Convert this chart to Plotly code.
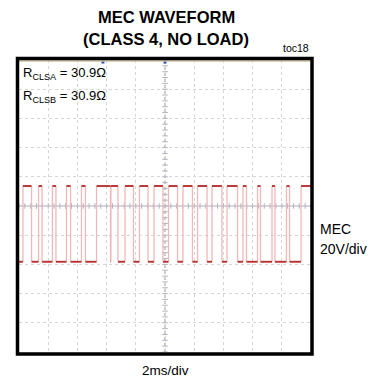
import numpy as np
import plotly.graph_objects as go

# Time base: 10 divisions x 2 ms; vertical: 10 divisions x 20 V
TIME_RANGE_MS = [0, 20]
VOLT_RANGE_V = [-100, 100]

# MEC trace levels (V) and transition times (ms); the trace starts at the low level
mec_low_v = -38.2
mec_high_v = 13.7
edge_times_ms = [0.27, 0.86, 1.34, 1.58, 2.29, 2.53, 3.25, 3.53, 4.28, 4.55,
                 5.31, 6.27, 6.29, 6.78, 7.26, 7.84, 8.25, 8.84, 9.25, 9.86,
                 10.24, 10.86, 11.23, 11.88, 12.23, 12.88, 13.22, 13.90, 14.25,
                 14.97, 15.34, 15.58, 16.34, 16.54, 17.33, 17.53, 18.32, 18.53,
                 19.32]

title_lines = ["MEC WAVEFORM", "(CLASS 4, NO LOAD)"]
rcls_labels = ["R<sub>CLSA</sub> = 30.9Ω", "R<sub>CLSB</sub> = 30.9Ω"]
channel_labels = ["MEC", "20V/div"]
time_label = "2ms/div"
fig_tag = "toc18"

FONT = "Liberation Sans, Arial, sans-serif"
W, H = 373, 378
L, R, T, B = 19, 62, 60, 26
PW, PH = W - L - R, H - T - B


def px_x(x):
    return (x - L) / PW


def px_y(y):
    return (H - B - y) / PH


def txt_font(size):
    return dict(family=FONT, size=size, color="black")


# Horizontal (settled) segments and vertical (fast) transitions of the step trace
bounds = [TIME_RANGE_MS[0]] + edge_times_ms + [TIME_RANGE_MS[1]]
flat_x, flat_y, edge_x, edge_y = [], [], [], []
for i in range(len(bounds) - 1):
    lvl = mec_low_v if i % 2 == 0 else mec_high_v
    flat_x += [bounds[i], bounds[i + 1], None]
    flat_y += [lvl, lvl, None]
for t in edge_times_ms:
    edge_x += [t, t, None]
    edge_y += [mec_low_v, mec_high_v, None]

fig = go.Figure()

# minor tick marks along the centre graticule lines
minor_t = np.arange(TIME_RANGE_MS[0], TIME_RANGE_MS[1] + 1e-9, 0.4)
minor_v = np.arange(VOLT_RANGE_V[0], VOLT_RANGE_V[1] + 1e-9, 4)
fig.add_trace(go.Scatter(x=minor_t, y=[0] * len(minor_t), mode="markers",
                         marker=dict(symbol="line-ns", size=4,
                                     line=dict(color="#b4b4c0", width=1)),
                         hoverinfo="skip", showlegend=False))
fig.add_trace(go.Scatter(x=[10] * len(minor_v), y=minor_v, mode="markers",
                         marker=dict(symbol="line-ew", size=4,
                                     line=dict(color="#b4b4c0", width=1)),
                         hoverinfo="skip", showlegend=False))

fig.add_trace(go.Scatter(x=edge_x, y=edge_y, mode="lines",
                         line=dict(color="#f0b8b8", width=1.3),
                         hoverinfo="skip", showlegend=False))
fig.add_trace(go.Scatter(x=flat_x, y=flat_y, mode="lines",
                         line=dict(color="#b8312f", width=1.9),
                         hoverinfo="skip", showlegend=False))

axis_common = dict(showticklabels=False, ticks="", zeroline=False,
                   showline=False, showgrid=True, gridcolor="#d6d6d6",
                   griddash="dot", gridwidth=1, fixedrange=True)
fig.update_xaxes(range=TIME_RANGE_MS, dtick=2, tick0=0, **axis_common)
fig.update_yaxes(range=VOLT_RANGE_V, dtick=20, tick0=0, **axis_common)

shapes = [
    # centre graticule lines
    dict(type="line", xref="x", yref="y", x0=10, x1=10,
         y0=VOLT_RANGE_V[0], y1=VOLT_RANGE_V[1],
         line=dict(color="#a4a4ae", width=1.2, dash="dot"), layer="below"),
    dict(type="line", xref="x", yref="y", x0=TIME_RANGE_MS[0],
         x1=TIME_RANGE_MS[1], y0=0, y1=0,
         line=dict(color="#a6aac2", width=1), layer="below"),
    # inner strip under the top edge of the screen
    dict(type="line", xref="paper", yref="paper", x0=0, x1=1,
         y0=px_y(61), y1=px_y(61), line=dict(color="#cdc29e", width=1.5)),
    # screen frame
    dict(type="rect", xref="paper", yref="paper",
         x0=px_x(17.5), x1=px_x(312), y0=px_y(354), y1=px_y(58.5),
         line=dict(color="black", width=3.5)),
]

annotations = [
    dict(text=f"<b>{title_lines[0]}</b>", x=px_x(166), y=px_y(16.5),
         xanchor="center", font=txt_font(16.5)),
    dict(text=f"<b>{title_lines[1]}</b>", x=px_x(166), y=px_y(39),
         xanchor="center", font=txt_font(16.5)),
    dict(text=fig_tag, x=px_x(311), y=px_y(47.5), xanchor="right",
         font=txt_font(10.5)),
    dict(text=rcls_labels[0], x=px_x(21), y=px_y(74), xanchor="left",
         font=txt_font(13)),
    dict(text=rcls_labels[1], x=px_x(21), y=px_y(96), xanchor="left",
         font=txt_font(13)),
    dict(text=channel_labels[0], x=px_x(318), y=px_y(229), xanchor="left",
         font=txt_font(14)),
    dict(text=channel_labels[1], x=px_x(318), y=px_y(248.5), xanchor="left",
         font=txt_font(14)),
    dict(text=time_label, x=px_x(165), y=px_y(370), xanchor="center",
         font=txt_font(13.5)),
]
for a in annotations:
    a.update(xref="paper", yref="paper", yanchor="middle", showarrow=False)

# trigger / position markers on the top edge
fig.add_trace(go.Scatter(x=[10, 5.75], y=[98.6, 98.6], mode="markers",
                         marker=dict(color="#3050c0", size=3, symbol="square"),
                         hoverinfo="skip", showlegend=False, cliponaxis=False))

fig.update_layout(width=W, height=H, margin=dict(l=L, r=R, t=T, b=B),
                  paper_bgcolor="white", plot_bgcolor="white",
                  shapes=shapes, annotations=annotations,
                  font=txt_font(12))

fig.write_html("out.html", config={"displayModeBar": False})
